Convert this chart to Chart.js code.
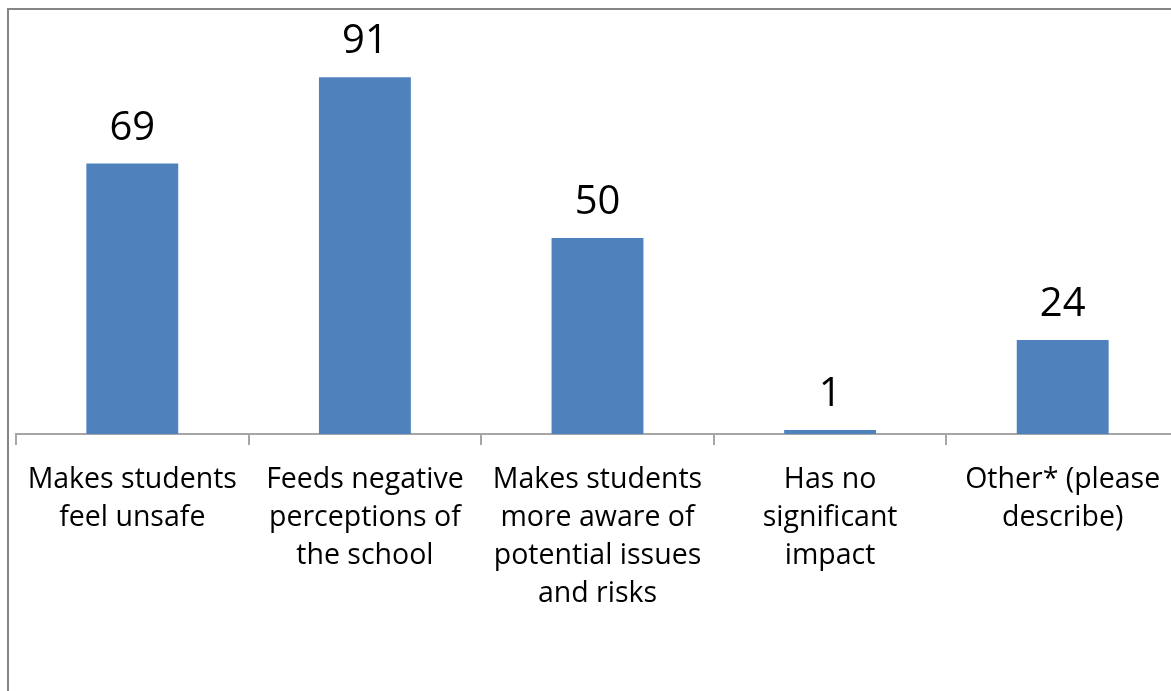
<!DOCTYPE html>
<html>
<head>
<meta charset="utf-8">
<script src="https://cdn.jsdelivr.net/npm/chart.js@4/dist/chart.umd.min.js"></script>
<style>
  html, body { margin: 0; padding: 0; background: #fff; overflow: hidden; width: 1171px; height: 691px; }
  #frame { position: absolute; left: 7px; top: 8px; width: 3000px; height: 3000px; border-left: 2px solid #858585; border-top: 2px solid #858585; }
  #wrap { position: absolute; left: 0; top: 0; width: 1190px; height: 691px; }
</style>
</head>
<body>
<div id="frame"></div>
<div id="wrap"><canvas id="c"></canvas></div>
<script>
const categories = [
  ["Makes students", "feel unsafe"],
  ["Feeds negative", "perceptions of", "the school"],
  ["Makes students", "more aware of", "potential issues", "and risks"],
  ["Has no", "significant", "impact"],
  ["Other* (please", "describe)"]
];
const values = [69, 91, 50, 1, 24];

const valueLabels = {
  id: 'valueLabels',
  afterDatasetsDraw(chart) {
    const ctx = chart.ctx;
    const meta = chart.getDatasetMeta(0);
    ctx.save();
    ctx.font = '40px "Open Sans", sans-serif';
    ctx.fillStyle = '#000';
    ctx.textAlign = 'center';
    ctx.textBaseline = 'alphabetic';
    meta.data.forEach((bar, i) => {
      ctx.fillText(String(values[i]), bar.x, bar.y - 24);
    });
    ctx.restore();
  }
};

new Chart(document.getElementById('c'), {
  type: 'bar',
  data: {
    labels: categories,
    datasets: [{
      data: values,
      backgroundColor: '#4f81bd',
      borderWidth: 0,
      categoryPercentage: 1,
      barPercentage: 0.395
    }]
  },
  options: {
    responsive: true,
    maintainAspectRatio: false,
    animation: false,
    layout: { padding: { left: 16, right: 11, top: 42, bottom: 62 } },
    plugins: { legend: { display: false }, tooltip: { enabled: false } },
    scales: {
      x: {
        offset: true,
        grid: { offset: true, drawOnChartArea: false, drawTicks: true, tickLength: 11, color: '#a6a6a6', lineWidth: 2 },
        border: { display: true, color: '#a6a6a6', width: 2 },
        ticks: {
          maxRotation: 0, minRotation: 0, autoSkip: false,
          color: '#000',
          padding: 16,
          font: { family: '"Open Sans", sans-serif', size: 28.5, lineHeight: 1.333 }
        }
      },
      y: {
        display: false,
        min: 0, max: 100
      }
    }
  },
  plugins: [valueLabels]
});
</script>
</body>
</html>
